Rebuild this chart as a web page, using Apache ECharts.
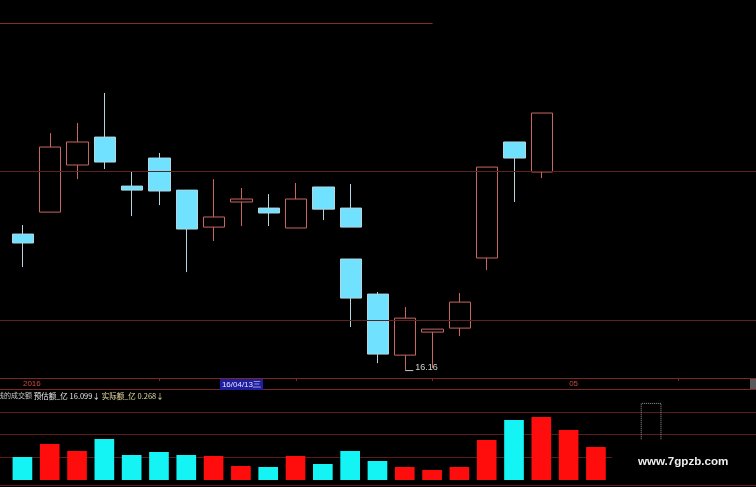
<!DOCTYPE html>
<html><head><meta charset="utf-8">
<script src="https://cdn.jsdelivr.net/npm/echarts@6/dist/echarts.min.js"></script>
<style>html,body{margin:0;padding:0;background:#000;overflow:hidden;}#c{width:756px;height:487px;}</style>
</head><body><div id="c"></div>
<script>
// ---- data ----
const tickLabels = ['2016','','','','','','','','16/04/13三','','','','','','','','','','','','05',''];
const cursorDay = 8;            // highlighted day on the time axis
const tickDays = [5, 10, 15, 24];
const futureSlots = 6;          // empty slots to the right
const opens  = [17.079,17.227,17.544,17.732,17.402,17.591,17.375,17.126,17.295,17.254,17.120,17.396,17.254,16.675,16.264,16.419,16.446,16.918,17.699,17.497];
const closes = [17.019,17.665,17.699,17.564,17.375,17.369,17.113,17.194,17.315,17.221,17.315,17.247,17.126,16.271,16.513,16.439,16.621,17.530,17.591,17.894];
const lows   = [16.857,17.227,17.449,17.517,17.200,17.274,16.823,17.032,17.133,17.133,17.120,17.173,17.126,16.210,16.160,16.177,16.392,16.837,17.295,17.456];
const highs  = [17.140,17.759,17.827,18.029,17.503,17.625,17.375,17.449,17.389,17.348,17.423,17.396,17.416,16.689,16.588,16.439,16.682,17.530,17.699,17.894];
const extraDay = 12;            // second candle drawn on the same day
const extraCandle = [16.911, 16.648, 16.453, 16.911];
const priceLines = [17.5, 16.5];
const topLine = 18.5, topLineEndDay = 15;
const amounts = [4.80,7.52,6.06,8.56,5.22,5.85,5.22,5.01,2.92,2.71,5.01,3.34,6.06,3.97,2.71,2.09,2.71,8.35,12.53,13.15,10.44,6.89];
const amountRising = [0,1,1,0,0,0,0,1,1,0,1,0,0,0,1,1,1,1,0,1,1,1];
const estimate = 16.099, estimateDay = 23, actual = 0.268;

// ---- build ----
const nSlots = 1 + tickLabels.length + futureSlots;
const cats = [], labels = [];
for (let i = 0; i < nSlots; i++) { cats.push('s' + i); labels.push(i >= 1 && i <= tickLabels.length ? tickLabels[i - 1] : ''); }
const axisFont = 'Liberation Sans';
const mainCats = cats.map((c, i) => i === cursorDay + 1
  ? {value: c, textStyle: {align: 'center', backgroundColor: '#1e1e9e', color: '#e4e4ff', padding: [1, 2, 1, 2], fontFamily: axisFont}}
  : c);
const candleData = cats.map((c, i) => {
  const d = i - 1;
  return (d >= 0 && d < opens.length) ? [opens[d], closes[d], lows[d], highs[d]] : '-';
});
const extraData = cats.map((c, i) => i - 1 === extraDay ? extraCandle : '-');
const volData = cats.map((c, i) => {
  const d = i - 1;
  if (d < 0 || d >= amounts.length) return '-';
  return {value: amounts[d], itemStyle: {color: amountRising[d] ? '#ff0c0c' : '#14f4f4'}};
});
const estData = cats.map((c, i) => i - 1 === estimateDay ? estimate : '-');
const minLow = Math.min(...lows), minIdx = lows.indexOf(minLow);

const upStyle = {color: '#000', borderColor: '#c86660', color0: '#70e2ff', borderColor0: '#b0d6e0', borderWidth: 1};
const chart = echarts.init(document.getElementById('c'), null, {renderer: 'canvas'});
chart.setOption({
  backgroundColor: '#000',
  animation: false,
  grid: [
    {left: -18, right: -18, top: 0, bottom: 109, show: false, outerBoundsMode: 'none'},
    {left: -18, right: -18, top: 389, bottom: 7, show: false, outerBoundsMode: 'none'}
  ],
  xAxis: [
    {type: 'category', gridIndex: 0, data: mainCats, boundaryGap: true, position: 'bottom',
      axisLine: {show: true, onZero: false, lineStyle: {color: '#7c2626', width: 1}},
      axisTick: {show: true, alignWithLabel: true, length: 3, inside: false,
        interval: (idx) => tickDays.includes(idx - 1), lineStyle: {color: '#7c2626'}},
      axisLabel: {show: true, interval: 0, formatter: (v, i) => labels[i], color: '#cc4a40',
        fontSize: 8, fontFamily: axisFont, align: 'left', margin: 1, lineHeight: 9},
      splitLine: {show: false}},
    {type: 'category', gridIndex: 1, data: cats, boundaryGap: true, position: 'top',
      axisLine: {show: true, onZero: false, lineStyle: {color: '#7c2626'}},
      axisTick: {show: false}, axisLabel: {show: false}, splitLine: {show: false}},
    {type: 'category', gridIndex: 1, data: cats, boundaryGap: true, position: 'bottom', offset: 5,
      axisLine: {show: true, onZero: false, lineStyle: {color: '#5a1c1c'}},
      axisTick: {show: false}, axisLabel: {show: false}, splitLine: {show: false}}
  ],
  yAxis: [
    {type: 'value', gridIndex: 0, min: 16.11, max: 18.655, show: false, splitLine: {show: false}},
    {type: 'value', gridIndex: 1, min: 0, max: 19, interval: 4.75,
      axisLine: {show: false}, axisTick: {show: false}, axisLabel: {show: false},
      splitLine: {show: true, lineStyle: {color: ['transparent', '#5a1c1c', '#5a1c1c', '#5a1c1c', 'transparent']}}}
  ],
  series: [
    {type: 'candlestick', xAxisIndex: 0, yAxisIndex: 0, data: candleData, barWidth: '80%',
      itemStyle: upStyle, emphasis: {disabled: true},
      markLine: {silent: true, symbol: ['none', 'none'], label: {show: false},
        lineStyle: {type: 'solid', width: 1, color: '#5e2222'},
        data: priceLines.map(p => ({yAxis: p})).concat([[
          {coord: [0, topLine], lineStyle: {color: '#8a2c22', type: 'solid', width: 1}},
          {coord: [topLineEndDay + 1, topLine]}
        ]])},
      markPoint: {silent: true, symbol: 'rect', symbolSize: [8, 1], symbolOffset: [4, 0],
        itemStyle: {color: '#c8c8c8'},
        label: {show: true, position: 'right', distance: 2, offset: [0, -3], formatter: minLow.toFixed(2),
          color: '#d0d0d0', fontSize: 9, fontFamily: 'Liberation Sans'},
        data: [{coord: [minIdx + 1, minLow]}]}
    },
    {type: 'candlestick', xAxisIndex: 0, yAxisIndex: 0, data: extraData, barWidth: '80%',
      itemStyle: upStyle, emphasis: {disabled: true}},
    {type: 'bar', xAxisIndex: 1, yAxisIndex: 1, data: volData, barWidth: '72%', barGap: '-100%',
      emphasis: {disabled: true}},
    {type: 'bar', xAxisIndex: 1, yAxisIndex: 1, data: estData, barWidth: '76%', barGap: '-100%',
      itemStyle: {color: 'transparent', borderColor: '#9a9a9a', borderWidth: 1, borderType: 'dotted'},
      emphasis: {disabled: true}}
  ],
  graphic: [
    {type: 'text', z: 100, x: -3, y: 392,
      style: {
        text: '{a|线的成交额}{b| 预估额_亿 ' + estimate.toFixed(3) + '↓} {c|实际额_亿 ' + actual.toFixed(3) + '↓}',
        font: '7.5px "Noto Sans CJK SC"',
        rich: {
          a: {fontSize: 7, fill: '#c8c8c8', fontFamily: 'Noto Sans CJK SC'},
          b: {fontSize: 7.5, fill: '#e8e8e8', fontFamily: 'Noto Sans CJK SC'},
          c: {fontSize: 7.5, fill: '#e6dca0', fontFamily: 'Noto Sans CJK SC'}
        }
      }},
    {type: 'rect', z: 100, shape: {x: 750, y: 379, width: 6, height: 10}, style: {fill: '#5a5a5a'}},
    {type: 'text', z: 100, left: 612, top: 440,
      style: {text: 'www.7gpzb.com', font: 'bold 11.6px "Liberation Sans"', fill: '#eeeeee',
        backgroundColor: '#000', padding: [16, 28, 17, 26]}}
  ]
});
</script>
</body></html>
